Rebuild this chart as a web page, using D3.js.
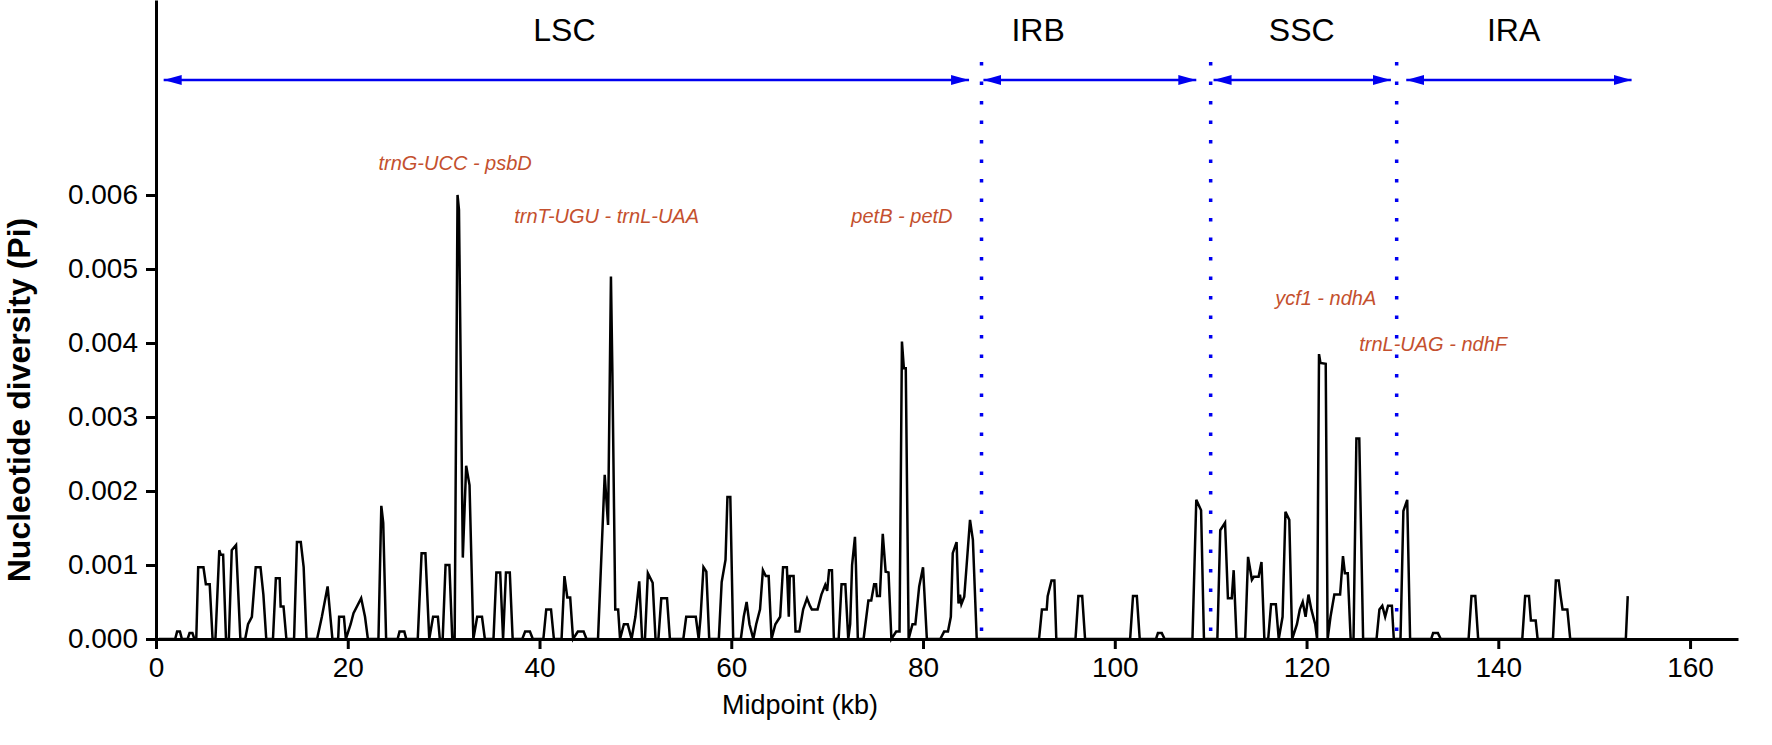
<!DOCTYPE html>
<html lang="en">
<head>
    <meta charset="UTF-8">
    <title>Nucleotide diversity (Pi)</title>
    <style>
        html, body { margin: 0; padding: 0; background: #fff; }
        svg { display: block; font-family: "Liberation Sans", Arial, sans-serif; }
    </style>
</head>
<body>
<div id="chart"></div>
<script src="https://cdnjs.cloudflare.com/ajax/libs/d3/7.8.5/d3.min.js"></script>
<script>
    // sliding window midpoints (kb)
    const midpointKb = [
        0.3, 2.0, 2.2, 2.5, 2.7, 3.3, 3.5, 3.8, 4.0, 4.2, 4.4, 4.95, 5.2, 5.6, 5.9, 6.2, 6.6, 6.75, 7.0, 7.3,
        7.6, 7.9, 8.35, 8.8, 9.3, 9.6, 10.0, 10.4, 10.9, 11.2, 11.5, 12.2, 12.5, 12.9, 13.0, 13.3, 13.6, 14.4, 14.7, 15.1,
        15.4, 15.7, 16.8, 17.3, 17.9, 18.4, 19.0, 19.1, 19.6, 19.8, 20.3, 20.6, 21.4, 21.8, 22.1, 23.2, 23.5, 23.7, 24.0, 25.2,
        25.4, 25.9, 26.1, 27.3, 27.7, 28.1, 28.5, 28.9, 29.4, 29.6, 29.9, 30.2, 30.6, 30.9, 31.15, 31.45, 31.6, 32.0, 32.35, 32.7,
        33.1, 33.5, 34.0, 34.3, 35.2, 35.5, 35.9, 36.2, 36.5, 36.9, 37.2, 38.2, 38.5, 39.0, 39.3, 40.4, 40.7, 41.2, 41.5, 42.3,
        42.6, 42.9, 43.2, 43.5, 44.0, 44.6, 44.9, 46.1, 46.8, 47.15, 47.45, 47.6, 47.9, 48.2, 48.4, 48.8, 49.2, 49.6, 50.0, 50.4,
        50.7, 51.0, 51.3, 51.8, 52.1, 52.4, 52.7, 53.3, 53.6, 55.0, 55.3, 56.3, 56.6, 56.8, 57.1, 57.4, 57.7, 58.7, 59.0, 59.4,
        59.6, 59.9, 60.2, 61.0, 61.3, 61.6, 61.9, 62.3, 62.6, 63.0, 63.3, 63.6, 63.9, 64.2, 64.6, 65.1, 65.4, 65.8, 66.0, 66.1,
        66.5, 66.7, 67.1, 67.5, 67.9, 68.2, 68.4, 69.0, 69.4, 69.8, 70.0, 70.2, 70.5, 70.7, 71.2, 71.5, 71.9, 72.2, 72.4, 72.6,
        72.9, 73.0, 73.2, 73.8, 74.3, 74.6, 74.9, 75.1, 75.2, 75.5, 75.8, 76.1, 76.4, 76.7, 77.2, 77.55, 77.8, 78.0, 78.2, 78.5,
        78.9, 79.2, 79.6, 80.0, 80.4, 81.8, 82.2, 82.6, 82.9, 83.1, 83.5, 83.7, 83.85, 84.0, 84.3, 84.55, 84.9, 85.2, 85.6, 92.1,
        92.4, 92.9, 93.0, 93.4, 93.7, 93.9, 95.9, 96.2, 96.6, 96.9, 101.6, 101.9, 102.3, 102.6, 104.3, 104.5, 104.9, 105.2, 108.1, 108.5,
        109.0, 109.3, 110.7, 111.0, 111.5, 111.8, 112.2, 112.4, 112.7, 113.6, 113.9, 114.3, 114.5, 115.0, 115.3, 115.6, 116.0, 116.3, 116.8, 117.1,
        117.5, 117.8, 118.2, 118.5, 119.0, 119.3, 119.6, 119.9, 120.2, 120.5, 120.9, 121.1, 121.3, 121.45, 122.0, 122.2, 122.5, 122.9, 123.5, 123.8,
        124.0, 124.3, 124.6, 124.9, 125.2, 125.5, 125.9, 127.3, 127.6, 127.9, 128.2, 128.5, 128.9, 129.1, 129.8, 130.1, 130.5, 130.8, 133.0, 133.2,
        133.7, 134.0, 136.9, 137.2, 137.6, 137.9, 142.5, 142.8, 143.2, 143.4, 143.9, 144.1, 145.7, 146.0, 146.3, 146.5, 146.7, 147.2, 147.5, 153.3,
        153.5
    ];

    // nucleotide diversity for each window
    const piValues = [
        0, 0, 0.0001, 0.0001, 0, 0, 0.00008, 0.00008, 0, 0, 0.00097, 0.00097, 0.00074, 0.00074, 0, 0, 0.0012, 0.00114, 0.00114, 0,
        0, 0.0012, 0.00127, 0, 0, 0.0002, 0.0003, 0.00097, 0.00097, 0.0006, 0, 0, 0.00082, 0.00082, 0.00044, 0.00044, 0, 0, 0.00131, 0.00131,
        0.00097, 0, 0, 0.0003, 0.00071, 0, 0, 0.0003, 0.0003, 0, 0.0002, 0.00035, 0.00055, 0.0003, 0, 0, 0.0018, 0.00157, 0, 0,
        0.0001, 0.0001, 0, 0, 0.00116, 0.00116, 0, 0.0003, 0.0003, 0, 0, 0.001, 0.001, 0, 0, 0.006, 0.0058, 0.0011, 0.00234, 0.00208,
        0, 0.0003, 0.0003, 0, 0, 0.0009, 0.0009, 0, 0.0009, 0.0009, 0, 0, 0.0001, 0.0001, 0, 0, 0.0004, 0.0004, 0, 0,
        0.00085, 0.00056, 0.00056, 0, 0.0001, 0.0001, 0, 0, 0.00222, 0.00154, 0.0049, 0.0036, 0.0004, 0.0004, 0, 0.0002, 0.0002, 0, 0.0003, 0.00078,
        0, 0, 0.00089, 0.00076, 0, 0, 0.00055, 0.00055, 0, 0, 0.0003, 0.0003, 0, 0.0003, 0.00097, 0.00091, 0, 0, 0.00077, 0.00107,
        0.00192, 0.00192, 0, 0, 0.0003, 0.0005, 0.0002, 0, 0.0002, 0.0004, 0.00093, 0.00085, 0.00085, 0, 0.0002, 0.0003, 0.00097, 0.00097, 0.0003, 0.00085,
        0.00085, 0.0001, 0.0001, 0.0004, 0.00055, 0.00045, 0.0004, 0.0004, 0.0006, 0.00073, 0.00065, 0.00093, 0.00093, 0, 0, 0.00074, 0.00074, 0, 0.0002, 0.001,
        0.00138, 0.001, 0, 0, 0.00052, 0.00052, 0.00074, 0.00074, 0.00058, 0.00058, 0.00142, 0.00091, 0.0009, 0, 0.0001, 0.0001, 0.00402, 0.00366, 0.00366, 0,
        0.0002, 0.0002, 0.00071, 0.00097, 0, 0, 0.0001, 0.0001, 0.0003, 0.00116, 0.00131, 0.00048, 0.0006, 0.00047, 0.00057, 0.001, 0.00161, 0.00134, 0, 0,
        0.0004, 0.0004, 0.00058, 0.00079, 0.00079, 0, 0, 0.00058, 0.00058, 0, 0, 0.00058, 0.00058, 0, 0, 0.00008, 0.00008, 0, 0, 0.00188,
        0.00174, 0, 0, 0.00147, 0.00157, 0.00055, 0.00055, 0.00093, 0, 0, 0.00111, 0.0008, 0.00084, 0.00084, 0.00104, 0, 0, 0.00047, 0.00047, 0,
        0.0003, 0.00172, 0.00161, 0, 0.0002, 0.0004, 0.0005, 0.0003, 0.0006, 0.0004, 0.0002, 0, 0.00385, 0.00373, 0.00372, 0, 0.0003, 0.0006, 0.0006, 0.00112,
        0.00089, 0.00089, 0, 0, 0.00271, 0.00271, 0, 0, 0.0004, 0.00045, 0.0003, 0.00045, 0.00045, 0, 0, 0.00173, 0.00188, 0, 0, 0.00008,
        0.00008, 0, 0, 0.00058, 0.00058, 0, 0, 0.00058, 0.00058, 0.00025, 0.00025, 0, 0, 0.00079, 0.00079, 0.00058, 0.0004, 0.0004, 0, 0,
        0.00058
    ];

    // genome regions
    const regionNames = ['LSC', 'IRB', 'SSC', 'IRA'];
    const regionStartKb = [0.8, 86.3, 110.3, 130.4];
    const regionEndKb = [84.8, 108.5, 128.8, 153.9];
    const regionLabelKb = [42.6, 92.0, 119.5, 141.6];
    const boundaryKb = [86.1, 110.0, 129.4];

    // divergence hotspots
    const hotspotNames = ['trnG-UCC - psbD', 'trnT-UGU - trnL-UAA', 'petB - petD', 'ycf1 - ndhA', 'trnL-UAG - ndhF'];
    const hotspotKb = [31.2, 47.0, 77.8, 122.0, 133.2];
    const hotspotPi = [0.00643, 0.00572, 0.00572, 0.00461, 0.00399];

    const xTicks = [0, 20, 40, 60, 80, 100, 120, 140, 160];
    const yTicks = [0, 0.001, 0.002, 0.003, 0.004, 0.005, 0.006];

    const width = 1772;
    const height = 745;
    const blue = '#0000f0';

    let svg = d3.select('#chart')
        .append('svg')
        .attr('width', width)
        .attr('height', height);

    let x = d3.scaleLinear().domain([0, 165]).range([156, 1738]);
    let y = d3.scaleLinear().domain([0, 0.008635]).range([639, 0]);

    //arrow heads
    let defs = svg.append('defs');
    defs.append('marker')
        .attr('id', 'head')
        .attr('markerUnits', 'userSpaceOnUse')
        .attr('markerWidth', 20)
        .attr('markerHeight', 12)
        .attr('refX', 18)
        .attr('refY', 5)
        .attr('orient', 'auto-start-reverse')
        .append('path')
        .attr('d', 'M0,0 L18,5 L0,10 Z')
        .attr('fill', blue);

    //axes
    let xAxis = svg.append('g')
        .attr('transform', 'translate(0,639)')
        .call(d3.axisBottom(x).tickValues(xTicks).tickSize(10).tickPadding(8).tickSizeOuter(0));

    let yAxis = svg.append('g')
        .attr('transform', 'translate(156,0)')
        .call(d3.axisLeft(y).tickValues(yTicks).tickFormat(d3.format('.3f')).tickSize(10).tickPadding(8).tickSizeOuter(0));

    [xAxis, yAxis].forEach(function (a) {
        a.selectAll('path, line').attr('stroke', '#000').attr('stroke-width', 3);
        a.selectAll('text').attr('font-size', 28).attr('fill', '#000')
            .attr('font-family', '"Liberation Sans", Arial, sans-serif');
    });

    //boundaries between regions
    svg.selectAll('.boundary')
        .data(boundaryKb)
        .enter()
        .append('line')
        .attr('class', 'boundary')
        .attr('x1', d => x(d))
        .attr('x2', d => x(d))
        .attr('y1', 62)
        .attr('y2', 639)
        .attr('stroke', blue)
        .attr('stroke-width', 3.5)
        .attr('stroke-dasharray', '3.5 16');

    //region arrows and names
    svg.selectAll('.region-arrow')
        .data(regionNames)
        .enter()
        .append('line')
        .attr('class', 'region-arrow')
        .attr('x1', (d, i) => x(regionStartKb[i]))
        .attr('x2', (d, i) => x(regionEndKb[i]))
        .attr('y1', 80)
        .attr('y2', 80)
        .attr('stroke', blue)
        .attr('stroke-width', 2.5)
        .attr('marker-start', 'url(#head)')
        .attr('marker-end', 'url(#head)');

    svg.selectAll('.region-name')
        .data(regionNames)
        .enter()
        .append('text')
        .attr('class', 'region-name')
        .attr('x', (d, i) => x(regionLabelKb[i]))
        .attr('y', 30)
        .attr('dy', '0.35em')
        .attr('text-anchor', 'middle')
        .attr('font-size', 32)
        .attr('fill', '#000')
        .text(d => d);

    //diversity line
    let line = d3.line()
        .x(d => x(d))
        .y((d, i) => y(piValues[i]));

    svg.append('path')
        .datum(midpointKb)
        .attr('d', line)
        .attr('fill', 'none')
        .attr('stroke', '#000')
        .attr('stroke-width', 2.5);

    //hotspot labels
    svg.selectAll('.hotspot')
        .data(hotspotNames)
        .enter()
        .append('text')
        .attr('class', 'hotspot')
        .attr('x', (d, i) => x(hotspotKb[i]))
        .attr('y', (d, i) => y(hotspotPi[i]))
        .attr('dy', '0.35em')
        .attr('text-anchor', 'middle')
        .attr('font-size', 20)
        .attr('font-style', 'italic')
        .attr('fill', '#c4502e')
        .text(d => d);

    //axis titles
    svg.append('text')
        .attr('x', 800)
        .attr('y', 705)
        .attr('dy', '0.35em')
        .attr('text-anchor', 'middle')
        .attr('font-size', 27)
        .attr('fill', '#000')
        .text('Midpoint (kb)');

    svg.append('text')
        .attr('transform', 'translate(19,400) rotate(-90)')
        .attr('dy', '0.35em')
        .attr('text-anchor', 'middle')
        .attr('font-size', 32)
        .attr('font-weight', 'bold')
        .attr('fill', '#000')
        .text('Nucleotide diversity (Pi)');
</script>
</body>
</html>
